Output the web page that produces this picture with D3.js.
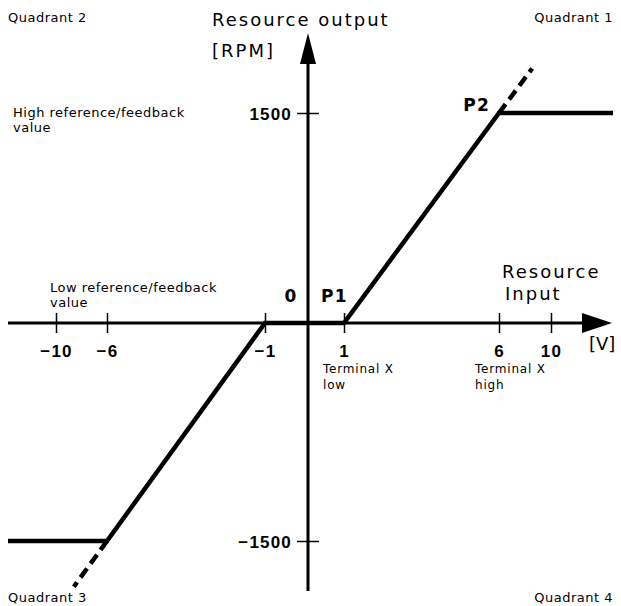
<!DOCTYPE html>
<html>
<head>
<meta charset="utf-8">
<script src="https://cdn.jsdelivr.net/npm/d3@7"></script>
<style>
  body { margin: 0; background: #fff; }
  svg { display: block; font-family: "DejaVu Sans", Verdana, sans-serif; }
  .small { font-size: 13px; letter-spacing: 0.5px; }
  .big { font-size: 18px; letter-spacing: 2px; }
  .unit { font-size: 18px; letter-spacing: 0; }
  .num { font-size: 17px; font-weight: bold; letter-spacing: 1.2px; }
  .tiny { font-size: 12px; letter-spacing: 0.8px; }
</style>
</head>
<body>
<script>
// schematic axis: tick values and the characteristic curve (input V -> output RPM)
var xTicks = [-10, -6, -1, 1, 6, 10];
var yTicks = [1500, -1500];
var curve = [[-12.5, -1500], [-6, -1500], [-1, 0], [1, 0], [6, 1500], [12.5, 1500]];
var dashUp = [[6, 1500], [8.55, 1820]];
var dashDown = [[-6, -1500], [-8.6, -1820]];

var width = 621, height = 606;

// the axis is not to scale, so piecewise linear scales
var x = d3.scaleLinear()
    .domain([-12.5, -10, -6, -1, 0, 1, 6, 10, 12.5])
    .range([8, 56, 107, 265, 308, 344, 499, 551, 613]);
var y = d3.scaleLinear()
    .domain([-1850, -1500, 0, 1500, 2075])
    .range([591, 541, 323, 113, 33]);

var svg = d3.select("body").append("svg")
    .attr("width", width)
    .attr("height", height);

var x0 = x(0), y0 = y(0);

// axes lines
svg.append("line")
    .attr("x1", x(-12.5)).attr("x2", x(12.5) - 20)
    .attr("y1", y0).attr("y2", y0)
    .attr("stroke", "#000").attr("stroke-width", 3);
svg.append("line")
    .attr("x1", x0).attr("x2", x0)
    .attr("y1", y(-1850)).attr("y2", y(2075) + 20)
    .attr("stroke", "#000").attr("stroke-width", 3);

// arrow heads
svg.append("path")
    .attr("d", "M" + (x(12.5) - 1) + "," + y0 + "L" + (x(12.5) - 31) + "," + (y0 - 10) + "L" + (x(12.5) - 31) + "," + (y0 + 10) + "Z")
    .attr("fill", "#000");
svg.append("path")
    .attr("d", "M" + x0 + "," + y(2075) + "L" + (x0 - 8) + "," + (y(2075) + 31) + "L" + (x0 + 8) + "," + (y(2075) + 31) + "Z")
    .attr("fill", "#000");

// tick marks and labels through d3 axes
var xAxis = d3.axisBottom(x)
    .tickValues(xTicks)
    .tickSize(20)
    .tickPadding(12)
    .tickFormat(d3.format("d"));
var gx = svg.append("g")
    .attr("transform", "translate(0," + (y0 - 10) + ")")
    .call(xAxis);
gx.select(".domain").remove();
gx.selectAll("line").attr("stroke", "#000").attr("stroke-width", 1.5);
gx.selectAll("text").attr("class", "num").attr("font-family", null).attr("font-size", null).attr("fill", "#000");

var yAxis = d3.axisLeft(y)
    .tickValues(yTicks)
    .tickSize(22)
    .tickPadding(5)
    .tickFormat(d3.format("d"));
var gy = svg.append("g")
    .attr("transform", "translate(" + (x0 + 11) + ",0)")
    .call(yAxis);
gy.select(".domain").remove();
gy.selectAll("line").attr("stroke", "#000").attr("stroke-width", 1.5);
gy.selectAll("text").attr("class", "num").attr("font-family", null).attr("font-size", null).attr("fill", "#000")
    .attr("dy", "0.4em");

// characteristic
var line = d3.line()
    .x(function(d) { return x(d[0]); })
    .y(function(d) { return y(d[1]); });

svg.append("path")
    .datum(curve)
    .attr("d", line)
    .attr("fill", "none")
    .attr("stroke", "#000")
    .attr("stroke-width", 4.5)
    .attr("stroke-linejoin", "miter");

[dashUp, dashDown].forEach(function(seg) {
  svg.append("path")
      .datum(seg)
      .attr("d", line)
      .attr("fill", "none")
      .attr("stroke", "#000")
      .attr("stroke-width", 4.5)
      .attr("stroke-dasharray", "11,6");
});

// texts
function label(txt, px, py, cls, anchor) {
  svg.append("text")
      .attr("x", px).attr("y", py)
      .attr("class", cls)
      .attr("text-anchor", anchor || "start")
      .text(txt);
}
label("Quadrant 2", 8, 22, "small");
label("Quadrant 1", 613, 22, "small", "end");
label("Quadrant 3", 8, 602, "small");
label("Quadrant 4", 613, 602, "small", "end");
label("Resource output", 212, 26, "big");
label("[RPM]", 212, 57, "big");
label("High reference/feedback", 13, 117, "small");
label("value", 13, 132, "small");
label("Low reference/feedback", 50, 292, "small");
label("value", 50, 307, "small");
label("P2", 490, 111, "num", "end");
label("0", 291, 302, "num", "middle");
label("P1", 321, 302, "num");
label("Resource", 502, 278, "big");
label("Input", 505, 300, "big");
label("[V]", 589, 350, "unit");
label("Terminal X", 323, 373, "tiny");
label("low", 323, 389, "tiny");
label("Terminal X", 475, 373, "tiny");
label("high", 475, 389, "tiny");
</script>
</body>
</html>
